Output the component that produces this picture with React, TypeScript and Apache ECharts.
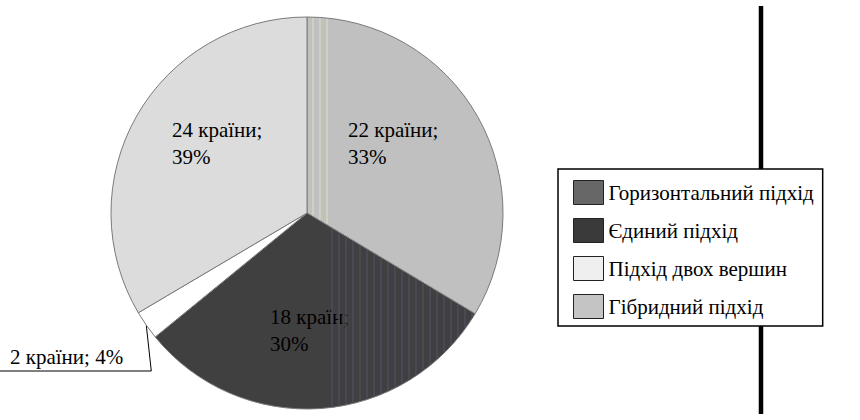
import React, { useEffect, useRef } from 'react';
import * as echarts from 'echarts';

// Slices, clockwise from 12 o'clock
const categories = ['Гібридний підхід', 'Єдиний підхід', 'Підхід двох вершин', 'Горизонтальний підхід'];
const countryCounts = [22, 18, 2, 24];
const countryWords = ['країни', 'країн', 'країни', 'країни'];
const percentLabels = [33, 30, 4, 39];
// share of the circle each slice occupies as drawn in the picture (%)
const sliceShares = [33.6, 30.5, 2.4, 33.5];
const sliceColors = ['#c0c0c0', '#404040', '#ffffff', '#dcdcdc'];

// Legend (order and swatch colours as printed)
const legendNames = ['Горизонтальний підхід', 'Єдиний підхід', 'Підхід двох вершин', 'Гібридний підхід'];
const legendColors = ['#676767', '#3a3a3a', '#efefef', '#c4c4c4'];

const FONT = 'Liberation Serif';
const CX = 307;
const CY = 213;
const R = 196;
// label top-left relative to pie centre for inside labels
const labelPos: Record<number, [number, number]> = {
  0: [41, -97],
  1: [-37, 90],
  3: [-135, -97],
};

function buildStripes() {
  const total = sliceShares.reduce((a, b) => a + b, 0);
  const ang = (sliceShares[0] / total) * Math.PI * 2; // boundary gray/dark, from 12 o'clock clockwise
  const dirX = Math.sin(ang);
  const dirY = -Math.cos(ang);
  const slope = dirY / dirX;
  const items: any[] = [];
  // scan stripes in the grey slice near the top
  [313, 320, 327].forEach((x) => {
    const dx = x - CX;
    const yTop = CY - Math.sqrt(R * R - dx * dx) + 1;
    const yBot = CY + dx * slope - 1;
    items.push({
      type: 'line',
      z: 10,
      silent: true,
      shape: { x1: x, y1: yTop, x2: x, y2: yBot },
      style: { stroke: '#d6d6bc', lineWidth: 1.5 },
    });
  });
  // scan stripes in the dark slice
  const xEnd = CX + R * dirX;
  for (let x = 332; x < xEnd - 2; x += 7) {
    const dx = x - CX;
    const yTop = CY + dx * slope + 1;
    const yBot = CY + Math.sqrt(R * R - dx * dx) - 1;
    if (yBot <= yTop) continue;
    items.push({
      type: 'line',
      z: 10,
      silent: true,
      shape: { x1: x, y1: yTop, x2: x, y2: yBot },
      style: { stroke: '#4b4b5e', lineWidth: 1.5 },
    });
  }
  return items;
}

export default function App() {
  const ref = useRef<HTMLDivElement>(null);
  useEffect(() => {
    if (!ref.current) return;
    const chart = echarts.init(ref.current, null, { renderer: 'svg' });
    const data = categories.map((name, i) => ({
      name,
      value: sliceShares[i],
      itemStyle: { color: sliceColors[i] },
      label:
        i === 2
          ? { position: 'outside', formatter: `${countryCounts[i]} ${countryWords[i]}; ${percentLabels[i]}%` }
          : { position: 'inside', formatter: `${countryCounts[i]} ${countryWords[i]};\n${percentLabels[i]}%` },
      labelLine: i === 2 ? { show: true, length: 10, length2: 20 } : { show: false },
    }));
    chart.setOption({
      animation: false,
      backgroundColor: '#ffffff',
      legend: {
        orient: 'vertical',
        left: 558,
        top: 169,
        data: legendNames.map((n, i) => ({
          name: n,
          itemStyle: { color: legendColors[i], borderColor: '#222', borderWidth: 1 },
        })),
        icon: 'rect',
        itemWidth: 30,
        itemHeight: 24,
        itemGap: 13,
        padding: [11, 9, 7, 15],
        borderColor: '#000',
        borderWidth: 1.5,
        backgroundColor: '#fff',
        selectedMode: false,
        textStyle: { fontFamily: FONT, fontSize: 21, color: '#000' },
      },
      graphic: [
        {
          type: 'line',
          z: -10,
          shape: { x1: 761, y1: 6, x2: 761, y2: 414 },
          style: { stroke: '#000', lineWidth: 4.5 },
        },
        ...buildStripes(),
      ],
      series: [
        {
          type: 'pie',
          center: [CX, CY],
          radius: [0, R],
          startAngle: 90,
          clockwise: true,
          avoidLabelOverlap: false,
          emphasis: { scale: false },
          itemStyle: { borderColor: '#7a7a7a', borderWidth: 1 },
          label: {
            show: true,
            fontFamily: FONT,
            fontSize: 21,
            lineHeight: 27,
            color: '#000',
            align: 'left',
          },
          labelLine: { lineStyle: { color: '#000', width: 1 } },
          labelLayout: (p: any) => {
            const i = p.dataIndex;
            if (i === 2) {
              const p0 = p.labelLinePoints && p.labelLinePoints[0] ? p.labelLinePoints[0] : [155, 333];
              const x0 = p0[0] + 5;
              return {
                x: 10,
                y: 343,
                align: 'left',
                verticalAlign: 'top',
                labelLinePoints: [
                  [p0[0], p0[1]],
                  [x0, 371],
                  [0, 371],
                ],
              };
            }
            const off = labelPos[i];
            return { x: CX + off[0], y: CY + off[1], align: 'left', verticalAlign: 'top' };
          },
          data,
        },
      ],
    });
    return () => chart.dispose();
  }, []);
  return (
    <div
      ref={ref}
      style={{ position: 'absolute', left: 0, top: 0, width: 860, height: 420 }}
    />
  );
}
